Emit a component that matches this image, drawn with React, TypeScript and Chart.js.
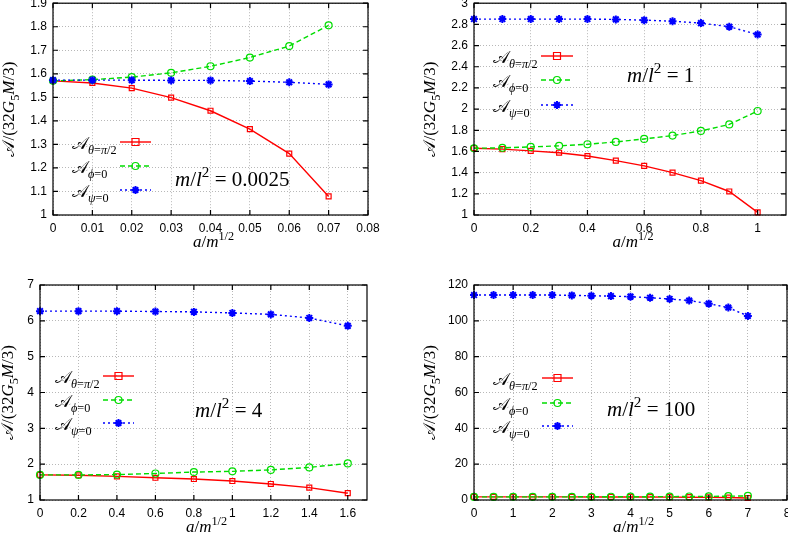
import { useEffect, useRef } from "react"
import { Chart, registerables } from "chart.js"

Chart.register(...registerables)

const SERIF = '"Liberation Serif", "DejaVu Serif", serif'
const SANS = '"Liberation Sans", Arial, sans-serif'
const RED = "#ff0000"
const GREEN = "#00dd00"
const BLUE = "#0000ff"
const SCRIPT_A = "\u{1D49C}"

// m/l^2 = 0.0025
const xA = [0, 0.01, 0.02, 0.03, 0.04, 0.05, 0.06, 0.07]
const thetaA = [1.57, 1.561, 1.539, 1.499, 1.443, 1.365, 1.261, 1.079]
const phiA = [1.57, 1.575, 1.586, 1.604, 1.632, 1.669, 1.718, 1.806]
const psiA = [1.573, 1.573, 1.573, 1.572, 1.572, 1.569, 1.564, 1.555]
const xRangeA = [0, 0.08, 0.01]
const yRangeA = [1, 1.9, 0.1]

// m/l^2 = 1
const xB = [0, 0.1, 0.2, 0.3, 0.4, 0.5, 0.6, 0.7, 0.8, 0.9, 1]
const thetaB = [1.631, 1.622, 1.606, 1.588, 1.557, 1.513, 1.464, 1.4, 1.325, 1.222, 1.025]
const phiB = [1.63, 1.634, 1.643, 1.653, 1.668, 1.69, 1.718, 1.75, 1.794, 1.855, 1.982]
const psiB = [2.85, 2.85, 2.85, 2.85, 2.85, 2.847, 2.84, 2.83, 2.812, 2.778, 2.704]
const xRangeB = [0, 1.1, 0.2]
const yRangeB = [1, 3, 0.2]

// m/l^2 = 4
const xC = [0, 0.2, 0.4, 0.6, 0.8, 1, 1.2, 1.4, 1.6]
const thetaC = [1.7, 1.69, 1.66, 1.62, 1.585, 1.53, 1.447, 1.345, 1.19]
const phiC = [1.7, 1.7, 1.71, 1.74, 1.78, 1.8, 1.84, 1.91, 2.02]
const psiC = [6.27, 6.27, 6.27, 6.26, 6.25, 6.22, 6.18, 6.08, 5.86]
const xRangeC = [0, 1.7, 0.2]
const yRangeC = [1, 7, 1]

// m/l^2 = 100
const xD = [0, 0.5, 1, 1.5, 2, 2.5, 3, 3.5, 4, 4.5, 5, 5.5, 6, 6.5, 7]
const thetaD = [1.74, 1.74, 1.74, 1.73, 1.73, 1.72, 1.71, 1.7, 1.68, 1.65, 1.62, 1.57, 1.49, 1.37, 1.12]
const phiD = [1.74, 1.74, 1.75, 1.75, 1.76, 1.77, 1.79, 1.81, 1.83, 1.86, 1.9, 1.95, 2.02, 2.12, 2.3]
const psiD = [114.4, 114.4, 114.4, 114.4, 114.4, 114.2, 114.0, 113.8, 113.5, 112.9, 112.2, 111.3, 109.6, 107.4, 102.7]
const xRangeD = [0, 8, 1]
const yRangeD = [0, 120, 20]

type Seg = { t: string; i?: boolean; s?: "sub" | "sup" }

const keyTheta: Seg[] = [{ t: SCRIPT_A }, { t: "θ", i: true, s: "sub" }, { t: "=", s: "sub" }, { t: "π", i: true, s: "sub" }, { t: "/2", s: "sub" }]
const keyPhi: Seg[] = [{ t: SCRIPT_A }, { t: "ϕ", i: true, s: "sub" }, { t: "=0", s: "sub" }]
const keyPsi: Seg[] = [{ t: SCRIPT_A }, { t: "ψ", i: true, s: "sub" }, { t: "=0", s: "sub" }]
const yTitle: Seg[] = [{ t: SCRIPT_A }, { t: "/(32" }, { t: "G", i: true }, { t: "5", s: "sub" }, { t: "M", i: true }, { t: "/3)" }]
const xTitle: Seg[] = [{ t: "a", i: true }, { t: "/" }, { t: "m", i: true }, { t: "1/2", s: "sup" }]

type Panel = {
  xs: number[]
  theta: number[]
  phi: number[]
  psi: number[]
  xr: number[]
  yr: number[]
  mass: string
  box: number[] // left, top, width, height (page px)
  plot: number[] // left, top, right, bottom (page px)
  keyX: number
  keyBase: number[]
  sample: number[]
  note: number[]
  yTitleX: number
}

const panels: Panel[] = [
  {
    xs: xA, theta: thetaA, phi: phiA, psi: psiA, xr: xRangeA, yr: yRangeA, mass: "0.0025",
    box: [0, -10, 394, 272], plot: [53, 0, 368, 215],
    keyX: 72, keyBase: [149, 173, 197], sample: [120, 151], note: [175, 186], yTitleX: 8,
  },
  {
    xs: xB, theta: thetaB, phi: phiB, psi: psiB, xr: xRangeB, yr: yRangeB, mass: "1",
    box: [394, -10, 410, 272], plot: [474, 0, 786, 215],
    keyX: 493, keyBase: [63, 87, 112], sample: [541, 573], note: [627, 82], yTitleX: 429,
  },
  {
    xs: xC, theta: thetaC, phi: phiC, psi: psiC, xr: xRangeC, yr: yRangeC, mass: "4",
    box: [0, 262, 394, 275], plot: [40, 285, 367, 500],
    keyX: 55, keyBase: [383, 407, 430], sample: [103, 134], note: [195, 417], yTitleX: 7,
  },
  {
    xs: xD, theta: thetaD, phi: phiD, psi: psiD, xr: xRangeD, yr: yRangeD, mass: "100",
    box: [394, 262, 410, 275], plot: [474, 285, 787, 500],
    keyX: 493, keyBase: [385, 410, 433], sample: [542, 573], note: [607, 416], yTitleX: 429,
  },
]

function segFont(seg: Seg, size: number) {
  const sz = seg.s ? size * 0.72 : size
  return `${seg.i ? "italic " : ""}${sz}px ${SERIF}`
}

function drawRich(ctx: CanvasRenderingContext2D, segs: Seg[], x: number, y: number, size: number, center = false) {
  let w = 0
  for (const seg of segs) {
    ctx.font = segFont(seg, size)
    w += ctx.measureText(seg.t).width
  }
  let cx = center ? x - w / 2 : x
  ctx.textAlign = "left"
  ctx.textBaseline = "alphabetic"
  ctx.fillStyle = "#000"
  for (const seg of segs) {
    ctx.font = segFont(seg, size)
    const dy = seg.s === "sub" ? size * 0.28 : seg.s === "sup" ? -size * 0.42 : 0
    ctx.fillText(seg.t, cx, y + dy)
    cx += ctx.measureText(seg.t).width
  }
}

function drawMarker(ctx: CanvasRenderingContext2D, kind: number, x: number, y: number) {
  ctx.beginPath()
  if (kind === 0) {
    ctx.strokeStyle = RED
    ctx.lineWidth = 1.2
    ctx.rect(x - 3.5, y - 3.5, 7, 7)
  } else if (kind === 1) {
    ctx.strokeStyle = GREEN
    ctx.lineWidth = 1.2
    ctx.arc(x, y, 3.5, 0, Math.PI * 2)
  } else {
    ctx.strokeStyle = BLUE
    ctx.lineWidth = 2
    const r = 4
    ctx.moveTo(x - r, y); ctx.lineTo(x + r, y)
    ctx.moveTo(x, y - r); ctx.lineTo(x, y + r)
    ctx.moveTo(x - r * 0.7, y - r * 0.7); ctx.lineTo(x + r * 0.7, y + r * 0.7)
    ctx.moveTo(x - r * 0.7, y + r * 0.7); ctx.lineTo(x + r * 0.7, y - r * 0.7)
  }
  ctx.stroke()
}

const overlay = (p: Panel) => ({
  id: "overlay",
  afterDraw(chart: any) {
    const { ctx, chartArea: a, scales } = chart
    const ox = p.box[0]
    const oy = p.box[1]
    ctx.save()
    ctx.setLineDash([])
    ctx.strokeStyle = "#000"
    ctx.lineWidth = 1.2
    ctx.strokeRect(a.left, a.top, a.right - a.left, a.bottom - a.top)
    // inward mirrored ticks
    ctx.beginPath()
    for (const t of scales.x.ticks) {
      const px = scales.x.getPixelForValue(t.value)
      ctx.moveTo(px, a.bottom); ctx.lineTo(px, a.bottom - 5)
      ctx.moveTo(px, a.top); ctx.lineTo(px, a.top + 5)
    }
    for (const t of scales.y.ticks) {
      const py = scales.y.getPixelForValue(t.value)
      ctx.moveTo(a.left, py); ctx.lineTo(a.left + 5, py)
      ctx.moveTo(a.right, py); ctx.lineTo(a.right - 5, py)
    }
    ctx.stroke()

    // axis titles
    drawRich(ctx, xTitle, (a.left + a.right) / 2 + 3, a.bottom + 32, 17, true)
    ctx.save()
    ctx.translate(p.yTitleX - ox + 6, (a.top + a.bottom) / 2)
    ctx.rotate(-Math.PI / 2)
    drawRich(ctx, yTitle, 0, 0, 17, true)
    ctx.restore()

    // key
    const keys = [keyTheta, keyPhi, keyPsi]
    const colors = [RED, GREEN, BLUE]
    const dashes = [[], [5, 3], [2, 3]]
    keys.forEach((k, i) => {
      const base = p.keyBase[i] - oy
      drawRich(ctx, k, p.keyX - ox, base, 17)
      const ly = base - 7
      ctx.beginPath()
      ctx.setLineDash(dashes[i])
      ctx.strokeStyle = colors[i]
      ctx.lineWidth = 1.4
      ctx.moveTo(p.sample[0] - ox, ly)
      ctx.lineTo(p.sample[1] - ox, ly)
      ctx.stroke()
      ctx.setLineDash([])
      drawMarker(ctx, i, (p.sample[0] + p.sample[1]) / 2 - ox, ly)
    })

    // mass label
    const note: Seg[] = [{ t: "m", i: true }, { t: "/" }, { t: "l", i: true }, { t: "2", s: "sup" }, { t: " = " + p.mass }]
    drawRich(ctx, note, p.note[0] - ox, p.note[1] - oy, 21)
    ctx.restore()
  },
})

const fmt = (v: any) => String(+Number(v).toFixed(4))

function PanelChart({ p }: { p: Panel }) {
  const ref = useRef<HTMLCanvasElement>(null)
  const [bl, bt, bw, bh] = p.box
  const [pl, pt, pr, pb] = p.plot

  useEffect(() => {
    if (!ref.current) return
    const pts = (ys: number[]) => p.xs.map((x, i) => ({ x, y: ys[i] }))
    const tickFont = { family: SANS, size: 12 }
    const chart = new Chart(ref.current, {
      type: "line",
      data: {
        datasets: [
          {
            data: pts(p.theta), borderColor: RED, borderWidth: 1.4, pointStyle: "rect", pointRadius: 3.5,
            pointBorderColor: RED, pointBackgroundColor: "rgba(0,0,0,0)", pointBorderWidth: 1.2, order: 2, clip: false,
          },
          {
            data: pts(p.phi), borderColor: GREEN, borderWidth: 1.4, borderDash: [5, 3], pointStyle: "circle", pointRadius: 3.5,
            pointBorderColor: GREEN, pointBackgroundColor: "rgba(0,0,0,0)", pointBorderWidth: 1.2, order: 1, clip: false,
          },
          {
            data: pts(p.psi), borderColor: BLUE, borderWidth: 1.4, borderDash: [2, 3], pointStyle: "star", pointRadius: 4,
            pointBorderColor: BLUE, pointBackgroundColor: BLUE, pointBorderWidth: 2, order: 0, clip: false,
          },
        ],
      },
      options: {
        responsive: true,
        maintainAspectRatio: false,
        animation: false,
        layout: { padding: { left: 0, top: pt - bt, right: bl + bw - pr, bottom: 0 } },
        plugins: { legend: { display: false }, tooltip: { enabled: false } },
        elements: { line: { tension: 0 } },
        scales: {
          x: {
            type: "linear",
            min: p.xr[0],
            max: p.xr[1],
            afterFit: (s: any) => { s.height = bt + bh - pb },
            grid: { color: "#b8b8b8", lineWidth: 1, drawTicks: false },
            border: { display: false, dash: [1, 2] },
            ticks: { stepSize: p.xr[2], includeBounds: false, autoSkip: false, maxRotation: 0, padding: 6, color: "#000", font: tickFont, callback: fmt },
          },
          y: {
            type: "linear",
            min: p.yr[0],
            max: p.yr[1],
            afterFit: (s: any) => { s.width = pl - bl },
            grid: { color: "#b8b8b8", lineWidth: 1, drawTicks: false },
            border: { display: false, dash: [1, 2] },
            ticks: { stepSize: p.yr[2], includeBounds: false, autoSkip: false, padding: 6, color: "#000", font: tickFont, callback: fmt },
          },
        },
      },
      plugins: [overlay(p)],
    } as any)
    return () => chart.destroy()
  }, [p])

  return (
    <div style={{ position: "absolute", left: bl, top: bt, width: bw, height: bh }}>
      <canvas ref={ref} />
    </div>
  )
}

export default function App() {
  return (
    <div style={{ position: "absolute", left: 0, top: 0, width: 788, height: 537, overflow: "hidden", background: "#fff" }}>
      {panels.map((p, i) => (
        <PanelChart key={i} p={p} />
      ))}
    </div>
  )
}
